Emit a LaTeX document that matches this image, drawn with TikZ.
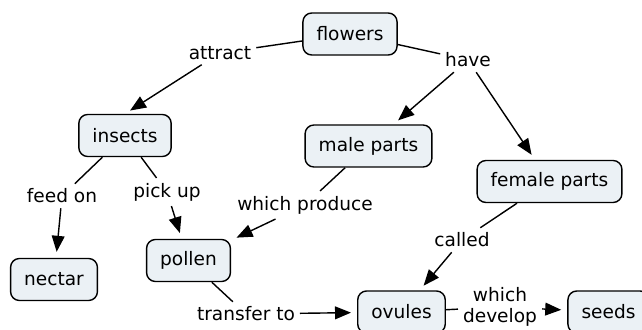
\documentclass[tikz,border=0pt]{standalone}
\usepackage{fontspec}
\setmainfont{DejaVu Sans}
\usetikzlibrary{arrows.meta}
\definecolor{cfill}{HTML}{EBF1F5}
\tikzstyle{cpt}=[shape=rectangle, rounded corners=2.2mm, draw=black, line width=1pt, fill=cfill, inner xsep=3.4mm, minimum height=10.5mm, font=\fontsize{13.2}{14.5}\selectfont]
\tikzstyle{lbl}=[inner sep=1.2mm, align=center, font=\fontsize{13.2}{14.5}\selectfont]
\tikzstyle{ln}=[line width=1pt]
\tikzstyle{arr}=[line width=1pt, -{Triangle[length=4mm,width=3.2mm]}, shorten >=1.5mm]

\begin{document}
\begin{tikzpicture}
\useasboundingbox (0,0) rectangle (16.05,8.225);
\clip (0,0) rectangle (16.05,8.225);
\node at (8.75,7.375)[cpt](0){flowers};
\node at (3.125,4.8375)[cpt](1){insects};
\node at (9.2125,4.575)[cpt](2){male parts};
\node at (13.7375,3.6875)[cpt](3){female parts};
\node at (1.35,1.2375)[cpt](4){nectar};
\node at (4.7125,1.7125)[cpt](5){pollen};
\node at (10.0375,0.425)[cpt](6){ovules};
\node at (15.2125,0.425)[cpt](7){seeds};
\node at (5.5,6.9)[lbl](8){attract};
\node at (11.7,6.725)[lbl](9){have};
\node at (1.55,3.325)[lbl](10){feed on};
\node at (4.175,3.425)[lbl](11){pick up};
\node at (7.625,3.1)[lbl](12){which produce};
\node at (11.55,2.225)[lbl](13){called};
\node at (6.15,0.375)[lbl](14){transfer to};
\node at (12.5,0.55)[lbl](15){which\\develop};
\draw[ln] (0)--(8);
\draw[arr] (8)--(1.north);
\draw[ln] (0)--(9);
\draw[arr] (9)--(2);
\draw[arr] (9)--(3);
\draw[ln] (1)--(10);
\draw[arr] (10)--(4);
\draw[ln] (1)--(11);
\draw[arr] (11)--(5);
\draw[ln] (2)--(12);
\draw[arr] (12)--(5);
\draw[ln] (3)--(13);
\draw[arr] (13)--(6);
\draw[ln] (5)--(14);
\draw[arr] (14)--(6);
\draw[ln] (6)--(15);
\draw[arr] (15)--(7);
\end{tikzpicture}
\end{document}
